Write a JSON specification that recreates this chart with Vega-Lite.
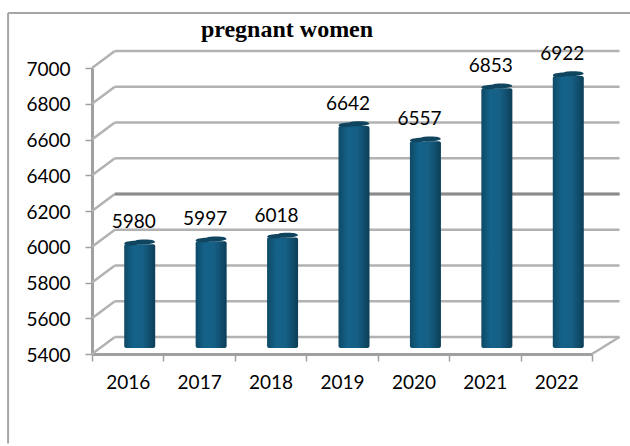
{"$schema":"https://vega.github.io/schema/vega-lite/v6.json","width":500,"height":286,"autosize":"none","padding":{"left":92,"top":68,"right":38,"bottom":92},"background":"white","config":{"view":{"stroke":null}},
"title":{"text":"pregnant women","font":"Liberation Serif","fontSize":24,"fontWeight":"bold","color":"black","anchor":"middle","frame":"group","dx":-55,"offset":-30},
"datasets":{"bars":[{"year":"2016","value":5980},{"year":"2017","value":5997},{"year":"2018","value":6018},{"year":"2019","value":6642},{"year":"2020","value":6557},{"year":"2021","value":6853},{"year":"2022","value":6922}],
"grid":[{"v":5400,"x0":0.32,"x1":7.385,"y0":5495,"y1":5495},{"v":5600,"x0":0.32,"x1":7.385,"y0":5695,"y1":5695},{"v":5800,"x0":0.32,"x1":7.385,"y0":5895,"y1":5895},{"v":6000,"x0":0.32,"x1":7.385,"y0":6095,"y1":6095},{"v":6200,"x0":0.32,"x1":7.385,"y0":6295,"y1":6295},{"v":6400,"x0":0.32,"x1":7.385,"y0":6495,"y1":6495},{"v":6600,"x0":0.32,"x1":7.385,"y0":6695,"y1":6695},{"v":6800,"x0":0.32,"x1":7.385,"y0":6895,"y1":6895},{"v":7000,"x0":0.32,"x1":7.385,"y0":7095,"y1":7095},
{"v":5400,"x0":0,"x1":0.32,"y0":5400,"y1":5495},{"v":5600,"x0":0,"x1":0.32,"y0":5600,"y1":5695},{"v":5800,"x0":0,"x1":0.32,"y0":5800,"y1":5895},{"v":6000,"x0":0,"x1":0.32,"y0":6000,"y1":6095},{"v":6200,"x0":0,"x1":0.32,"y0":6200,"y1":6295},{"v":6400,"x0":0,"x1":0.32,"y0":6400,"y1":6495},{"v":6600,"x0":0,"x1":0.32,"y0":6600,"y1":6695},{"v":6800,"x0":0,"x1":0.32,"y0":6800,"y1":6895},{"v":7000,"x0":0,"x1":0.32,"y0":7000,"y1":7095},
{"v":5400,"x0":7,"x1":7.385,"y0":5400,"y1":5495}],
"emph":[{"x0":0.32,"x1":7.385,"y0":6295,"y1":6295}],
"frame":[{"x0":-1.175,"x1":7.6,"y0":7308,"y1":7308},{"x0":-1.175,"x1":-1.175,"y0":4900,"y1":7308}]},
"layer":[
{"data":{"name":"frame"},"mark":{"type":"rule","color":"#a6a6a6","strokeWidth":2,"clip":false},"encoding":{"x":{"field":"x0","type":"quantitative","scale":{"domain":[0,7],"nice":false,"zero":false},"axis":null},"x2":{"field":"x1"},"y":{"field":"y0","type":"quantitative","scale":{"domain":[5400,7000],"nice":false,"zero":false},"axis":null},"y2":{"field":"y1"}}},
{"data":{"name":"grid"},"mark":{"type":"rule","color":"#b2b2b2","strokeWidth":2.5},"encoding":{"x":{"field":"x0","type":"quantitative","scale":{"domain":[0,7],"nice":false,"zero":false},"axis":null},"x2":{"field":"x1"},"y":{"field":"y0","type":"quantitative","scale":{"domain":[5400,7000],"nice":false,"zero":false},"axis":{"title":null,"values":[5400,5600,5800,6000,6200,6400,6600,6800,7000],"format":"d","grid":false,"labelFont":"Lato","labelFontSize":19,"labelColor":"black","labelPadding":15,"labelOffset":1,"domainColor":"#a0a0a0","domainWidth":3,"tickColor":"#a0a0a0","tickWidth":1.5,"tickSize":7}},"y2":{"field":"y1"}}},
{"data":{"name":"emph"},"mark":{"type":"rule","color":"#8c8c8c","strokeWidth":3},"encoding":{"x":{"field":"x0","type":"quantitative","scale":{"domain":[0,7],"nice":false,"zero":false},"axis":null},"x2":{"field":"x1"},"y":{"field":"y0","type":"quantitative","scale":{"domain":[5400,7000],"nice":false,"zero":false},"axis":null},"y2":{"field":"y1"}}},
{"data":{"name":"bars"},"mark":{"type":"bar","width":31,"xOffset":12,"cornerRadius":2,"fill":{"gradient":"linear","x1":0,"y1":0,"x2":1,"y2":0,"stops":[{"offset":0,"color":"#0e4a66"},{"offset":0.3,"color":"#14628a"},{"offset":0.6,"color":"#165f85"},{"offset":1,"color":"#0c3f58"}]}},
"encoding":{"x":{"field":"year","type":"nominal","scale":{"paddingInner":0,"paddingOuter":0},"axis":{"title":null,"labelAngle":0,"labelFont":"Lato","labelFontSize":19,"labelColor":"black","labelPadding":12,"domainColor":"#a0a0a0","domainWidth":3,"tickColor":"#a0a0a0","tickWidth":1.5,"tickSize":7,"tickBand":"extent"}},
"y":{"field":"value","type":"quantitative","scale":{"domain":[5366.4,6966.4],"nice":false,"zero":false},"axis":null},"y2":{"datum":5400}}},
{"data":{"name":"bars"},"mark":{"type":"point","filled":true,"opacity":1,"size":961,"color":"#10455f","xOffset":12,"yOffset":-8,"shape":"M-1,0.1 C-1,-0.06 -0.6,-0.08 -0.3,-0.1 C-0.2,-0.2 0.8,-0.22 0.95,-0.08 L1,0 C0.8,0.12 0.2,0.16 -0.1,0.14 C-0.5,0.24 -0.9,0.2 -1,0.1 Z"},"encoding":{"x":{"field":"year","type":"nominal","scale":{"paddingInner":0,"paddingOuter":0},"axis":null},"y":{"field":"value","type":"quantitative","scale":{"domain":[5400,7000],"nice":false,"zero":false},"axis":null}}},
{"data":{"name":"bars"},"mark":{"type":"text","font":"Lato","fontSize":19,"color":"black","xOffset":6,"dy":-28,"baseline":"middle"},"encoding":{"x":{"field":"year","type":"nominal","scale":{"paddingInner":0,"paddingOuter":0},"axis":null},"y":{"field":"value","type":"quantitative","scale":{"domain":[5400,7000],"nice":false,"zero":false},"axis":null},"text":{"field":"value","type":"nominal"}}}
],"resolve":{"scale":{"x":"independent","y":"independent"},"axis":{"x":"independent","y":"independent"}}}
